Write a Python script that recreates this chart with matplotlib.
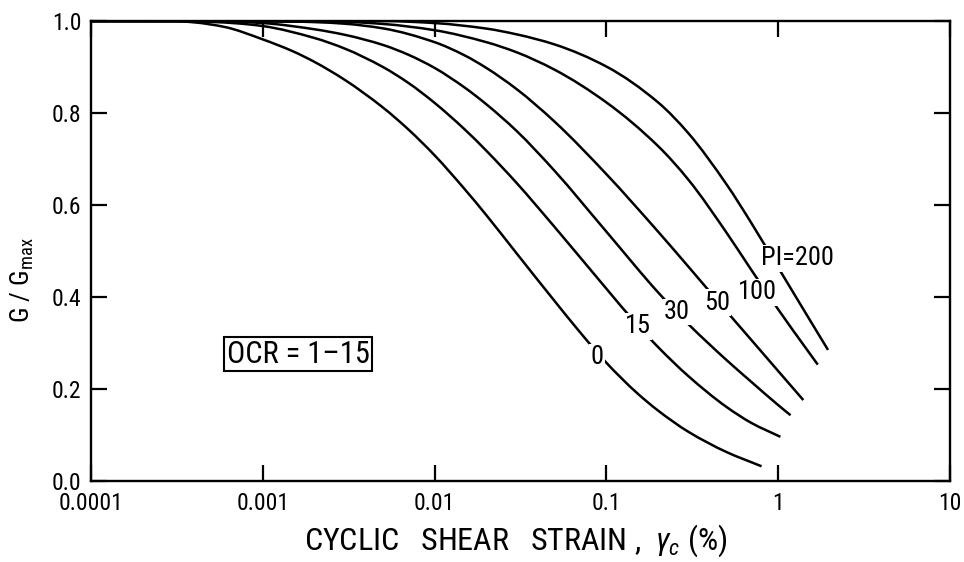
import math
import matplotlib
matplotlib.use("Agg")
import matplotlib.pyplot as plt
from matplotlib import font_manager
from matplotlib.path import Path
from matplotlib.patches import PathPatch

# ---------------- data ----------------
strain_pi0 = [1e-4, 2e-4, 3e-4, 4e-4, 6e-4, 1e-3, 1.5e-3, 2e-3, 3e-3, 5e-3, 7e-3,
              1e-2, 1.5e-2, 2e-2, 3e-2, 5e-2, 7e-2, 0.1, 0.15, 0.2, 0.3, 0.5, 0.8]
g_pi0 = [1.0, 1.0, 1.0, 0.997, 0.987, 0.960, 0.934, 0.911, 0.872, 0.812, 0.765,
         0.708, 0.634, 0.578, 0.495, 0.391, 0.324, 0.257, 0.192, 0.153, 0.107, 0.063, 0.032]

strain_pi15 = [1e-4, 3e-4, 5e-4, 7e-4, 1e-3, 2e-3, 3e-3, 5e-3, 7e-3, 1e-2, 1.5e-2,
               2e-2, 3e-2, 5e-2, 0.1, 0.15, 0.2, 0.3, 0.5, 0.7, 1.03]
g_pi15 = [1.0, 1.0, 0.998, 0.995, 0.989, 0.963, 0.940, 0.900, 0.866, 0.822, 0.764,
          0.718, 0.648, 0.552, 0.418, 0.341, 0.291, 0.228, 0.161, 0.126, 0.096]

strain_pi30 = [1e-4, 5e-4, 1e-3, 2e-3, 3e-3, 5e-3, 7e-3, 1e-2, 1.5e-2, 2e-2, 3e-2,
               5e-2, 0.1, 0.2, 0.3, 0.5, 0.7, 1.0, 1.18]
g_pi30 = [1.0, 1.0, 0.9955, 0.982, 0.970, 0.948, 0.927, 0.898, 0.855, 0.819, 0.761,
          0.674, 0.542, 0.410, 0.341, 0.263, 0.215, 0.165, 0.143]

strain_pi50 = [1e-4, 1e-3, 2e-3, 3e-3, 5e-3, 1e-2, 1.5e-2, 2e-2, 3e-2, 5e-2, 0.1,
               0.2, 0.3, 0.5, 0.7, 1.0, 1.4]
g_pi50 = [1.0, 1.0, 0.9976, 0.9941, 0.984, 0.954, 0.925, 0.898, 0.852, 0.781, 0.667,
          0.542, 0.466, 0.369, 0.306, 0.239, 0.176]

strain_pi100 = [1e-4, 3e-3, 5e-3, 1e-2, 2e-2, 3e-2, 5e-2, 0.1, 0.2, 0.3, 0.5, 0.7,
                1.0, 1.5, 1.7]
g_pi100 = [1.0, 0.998, 0.9936, 0.980, 0.954, 0.932, 0.894, 0.823, 0.728, 0.655, 0.540,
           0.458, 0.373, 0.281, 0.253]

strain_pi200 = [1e-4, 5e-3, 1e-2, 2e-2, 3e-2, 5e-2, 0.1, 0.2, 0.3, 0.5, 0.7, 1.0,
                1.5, 1.95]
g_pi200 = [1.0, 1.0, 0.9955, 0.9835, 0.971, 0.949, 0.901, 0.823, 0.756, 0.645, 0.560,
           0.464, 0.355, 0.285]

curve_labels = ["0", "15", "30", "50", "100", "PI=200"]
label_strain = [0.088, 0.153, 0.258, 0.44, 0.754, 1.30]
label_g = [0.269, 0.336, 0.367, 0.388, 0.41, 0.484]

x_ticks = [0.0001, 0.001, 0.01, 0.1, 1, 10]
x_ticklabels = ["0.0001", "0.001", "0.01", "0.1", "1", "10"]
y_ticks = [0.0, 0.2, 0.4, 0.6, 0.8, 1.0]
y_ticklabels = ["0.0", "0.2", "0.4", "0.6", "0.8", "1.0"]

# ---------------- font ----------------
avail = {f.name for f in font_manager.fontManager.ttflist}
FONT = "DejaVu Sans"
for cand in ["Liberation Sans Narrow", "DejaVu Sans Condensed", "Roboto Condensed",
             "Open Sans Condensed", "Liberation Sans"]:
    if cand in avail:
        FONT = cand
        break
plt.rcParams["font.family"] = [FONT, "DejaVu Sans"]
plt.rcParams["mathtext.fontset"] = "custom"
plt.rcParams["mathtext.rm"] = FONT
plt.rcParams["mathtext.it"] = FONT + ":italic"


def smooth_path(xs, ys):
    """Monotone cubic (Hermite) curve through the read points, drawn as Bezier
    segments in log-x space so it goes through the log scale of the axes."""
    u = [math.log10(v) for v in xs]
    n = len(u)
    h = [u[i + 1] - u[i] for i in range(n - 1)]
    d = [(ys[i + 1] - ys[i]) / h[i] for i in range(n - 1)]
    m = [0.0] * n
    m[0], m[-1] = d[0], d[-1]
    for k in range(1, n - 1):
        if d[k - 1] * d[k] <= 0:
            m[k] = 0.0
        else:
            w1 = 2 * h[k] + h[k - 1]
            w2 = h[k] + 2 * h[k - 1]
            m[k] = (w1 + w2) / (w1 / d[k - 1] + w2 / d[k])
    verts = [(xs[0], ys[0])]
    codes = [Path.MOVETO]
    for i in range(n - 1):
        c1u = u[i] + h[i] / 3
        c1y = ys[i] + m[i] * h[i] / 3
        c2u = u[i + 1] - h[i] / 3
        c2y = ys[i + 1] - m[i + 1] * h[i] / 3
        verts += [(10 ** c1u, c1y), (10 ** c2u, c2y), (xs[i + 1], ys[i + 1])]
        codes += [Path.CURVE4] * 3
    return Path(verts, codes)


# ---------------- figure ----------------
fig = plt.figure(figsize=(9.64, 5.62), dpi=100)
ax = fig.add_axes([91 / 964, 1 - 481 / 562, (950 - 91) / 964, (481 - 21) / 562])
ax.set_xscale("log")
ax.set_xlim(1e-4, 10)
ax.set_ylim(0, 1.0)

series = [(strain_pi0, g_pi0), (strain_pi15, g_pi15), (strain_pi30, g_pi30),
          (strain_pi50, g_pi50), (strain_pi100, g_pi100), (strain_pi200, g_pi200)]
for xs, ys in series:
    ax.add_patch(PathPatch(smooth_path(xs, ys), facecolor="none", edgecolor="black",
                           lw=1.8, capstyle="butt", zorder=2, clip_on=True))

for txt, xs, ys in zip(curve_labels, label_strain, label_g):
    ax.text(xs, ys, txt, fontsize=19, ha="center", va="center", zorder=4,
            bbox=dict(facecolor="white", edgecolor="none", pad=1.0))

ax.set_xticks(x_ticks)
ax.set_xticklabels(x_ticklabels)
ax.set_yticks(y_ticks)
ax.set_yticklabels(y_ticklabels)
ax.minorticks_off()
ax.tick_params(axis="both", which="major", direction="in", length=11.5, width=1.6,
               labelsize=17, top=True, right=True)
ax.tick_params(axis="x", pad=8)
ax.tick_params(axis="y", pad=7)
for sp in ax.spines.values():
    sp.set_linewidth(1.7)

ax.text(0.241, 0.276, "OCR = 1\u201315", transform=ax.transAxes, fontsize=22,
        ha="center", va="center",
        bbox=dict(facecolor="white", edgecolor="black", linewidth=1.5, pad=2.0))

fig.text(516 / 964, 1 - 541 / 562, "CYCLIC   SHEAR   STRAIN ,  $\\gamma_c$ (%)",
         fontsize=23, ha="center", va="center")
fig.text(22 / 964, 1 - 280 / 562, "G / G$_{\\mathrm{max}}$", fontsize=19,
         rotation=90, ha="center", va="center")

fig.savefig("out.png", dpi=100)
